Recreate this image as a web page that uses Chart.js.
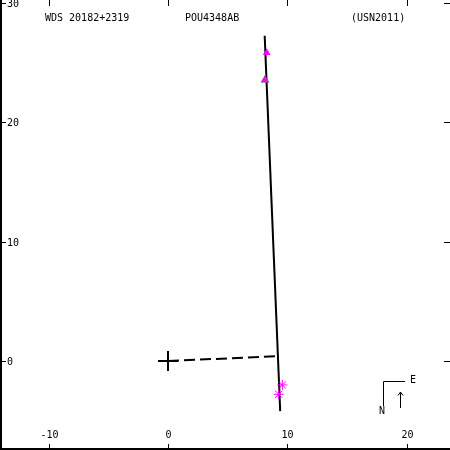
<!DOCTYPE html>
<html>
<head>
<meta charset="utf-8">
<script src="https://cdn.jsdelivr.net/npm/chart.js@4/dist/chart.umd.min.js"></script>
<style>
html,body{margin:0;padding:0;background:#fff;}
#c{display:block;}
</style>
</head>
<body>
<canvas id="c" width="450" height="450"></canvas>
<script>
// ---- data ----
const headerTexts = ["WDS 20182+2319", "POU4348AB", "(USN2011)"];
const xTicks = [-10, 0, 10, 20];
const yTicks = [0, 10, 20, 30];
const orbitX = [8.1, 9.4];
const orbitY = [27.25, -4.2];
const nodeX = [0, 9.2];
const nodeY = [0, 0.4];
const trianglesX = [8.27, 8.13];
const trianglesY = [25.84, 23.55];
const greenX = [8.13];
const greenY = [23.55];
const starsX = [9.58, 9.28];
const starsY = [-2.01, -2.79];
const originX = [0];
const originY = [0];

const pts = (xs, ys) => xs.map((x, i) => ({x: x, y: ys[i]}));
const FONT = '10px "DejaVu Sans Mono", monospace';

const decor = {
  id: 'decor',
  afterDraw(chart) {
    const ctx = chart.ctx;
    const xs = chart.scales.x, ys = chart.scales.y;
    const W = chart.width, H = chart.height;
    ctx.save();
    ctx.strokeStyle = '#000';
    ctx.fillStyle = '#000';
    ctx.lineWidth = 2;
    // frame: left and bottom
    ctx.beginPath();
    ctx.moveTo(1, 0); ctx.lineTo(1, H);
    ctx.moveTo(0, H - 1); ctx.lineTo(W, H - 1);
    ctx.stroke();
    ctx.lineWidth = 1;
    ctx.font = FONT;
    // x ticks
    xTicks.forEach(v => {
      const px = Math.round(xs.getPixelForValue(v)) + 0.5;
      ctx.beginPath();
      ctx.moveTo(px, 0); ctx.lineTo(px, 6);
      ctx.moveTo(px, H); ctx.lineTo(px, H - 6);
      ctx.stroke();
      ctx.textAlign = 'center';
      ctx.textBaseline = 'middle';
      ctx.fillText(String(v), px, 435);
    });
    // y ticks
    yTicks.forEach(v => {
      const py = Math.round(ys.getPixelForValue(v)) + 0.5;
      ctx.beginPath();
      ctx.moveTo(0, py); ctx.lineTo(6, py);
      ctx.moveTo(W, py); ctx.lineTo(W - 6, py);
      ctx.stroke();
      ctx.textAlign = 'left';
      ctx.textBaseline = 'middle';
      ctx.fillText(String(v), 7, py + 1);
    });
    // header
    ctx.textAlign = 'left';
    ctx.textBaseline = 'middle';
    ctx.fillText(headerTexts[0], 45, 18);
    ctx.fillText(headerTexts[1], 185, 18);
    ctx.fillText(headerTexts[2], 351, 18);
    // compass
    ctx.beginPath();
    ctx.moveTo(383.5, 406); ctx.lineTo(383.5, 381.5); ctx.lineTo(405, 381.5);
    // arrow
    ctx.moveTo(400.5, 408); ctx.lineTo(400.5, 392);
    ctx.moveTo(398, 395.5); ctx.lineTo(400.5, 392); ctx.lineTo(403, 395.5);
    ctx.stroke();
    ctx.textAlign = 'center';
    ctx.fillText('E', 413, 380.5);
    ctx.fillText('N', 382, 411);
    ctx.restore();
  }
};

new Chart(document.getElementById('c'), {
  type: 'scatter',
  data: {
    datasets: [
      {data: pts(originX, originY), pointStyle: 'cross', pointRadius: 10, borderColor: '#000', borderWidth: 2, order: 1},
      {data: pts(starsX, starsY), pointStyle: 'star', pointRadius: 5, borderColor: '#ff00ff', backgroundColor: '#ff00ff', borderWidth: 1, order: 0},
      {data: pts(trianglesX, trianglesY), pointStyle: 'triangle', pointRadius: 4.5, borderColor: '#ff00ff', backgroundColor: '#ff00ff', borderWidth: 0, order: 0},
      {data: pts(greenX, greenY), pointStyle: 'triangle', pointRadius: 5, borderColor: '#00a000', backgroundColor: '#00a000', borderWidth: 0, order: 2},
      {data: pts(orbitX, orbitY), showLine: true, pointRadius: 0, borderColor: '#000', borderWidth: 2, order: 5},
      {data: pts(nodeX, nodeY), showLine: true, pointRadius: 0, borderColor: '#000', borderWidth: 2, borderDash: [11, 5], order: 5}
    ]
  },
  options: {
    responsive: false,
    animation: false,
    events: [],
    layout: {padding: 0, autoPadding: false},
    plugins: {legend: {display: false}, tooltip: {enabled: false}},
    scales: {
      x: {type: 'linear', min: -14.08, max: 23.63, display: false},
      y: {type: 'linear', min: -7.46, max: 30.25, display: false}
    }
  },
  plugins: [decor]
});
</script>
</body>
</html>
